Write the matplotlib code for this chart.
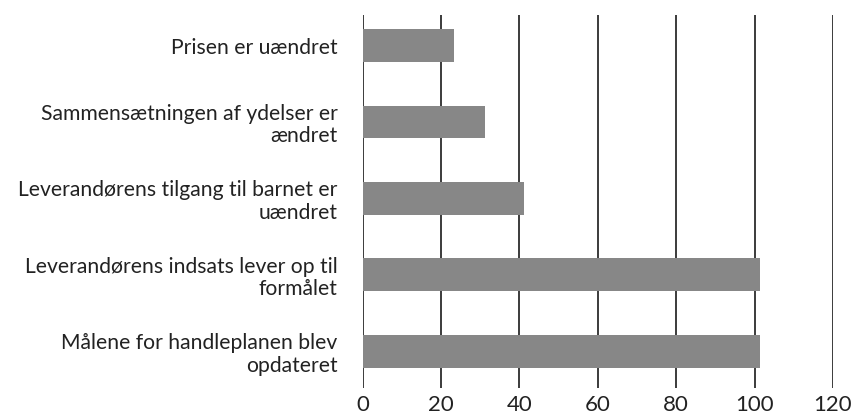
import matplotlib
matplotlib.use("Agg")
import matplotlib.pyplot as plt

categories = [
    "Prisen er uændret",
    "Sammensætningen af ydelser er\nændret",
    "Leverandørens tilgang til barnet er\nuændret",
    "Leverandørens indsats lever op til\nformålet",
    "Målene for handleplanen blev\nopdateret",
]
values = [23.3, 31.2, 41.1, 101.3, 101.3]
xticks = [0, 20, 40, 60, 80, 100, 120]

plt.rcParams['font.family'] = ['Lato', 'DejaVu Sans']

fig = plt.figure(figsize=(8.54, 4.19), dpi=100)
ax = fig.add_axes([0.4245, 0.074, 0.5509, 0.890])

ypos = list(range(len(categories)))
ax.barh(ypos, values, height=0.43, color="#878787", zorder=3)

ax.set_xlim(0, 120)
ax.set_ylim(4.48, -0.40)
ax.set_xticks(xticks)
ax.set_xticklabels([str(t) for t in xticks], fontsize=16, color="#222222")
ax.set_yticks(ypos)
ax.set_yticklabels(categories, fontsize=15.2, color="#222222", linespacing=1.15)

ax.grid(axis="x", color="#1a1a1a", linewidth=1.2, zorder=1)
ax.grid(axis="y", visible=False)
for s in ax.spines.values():
    s.set_visible(False)
ax.tick_params(axis="both", length=0)
ax.tick_params(axis="x", pad=5)
ax.tick_params(axis="y", pad=18)

fig.savefig("out.png", dpi=100)
